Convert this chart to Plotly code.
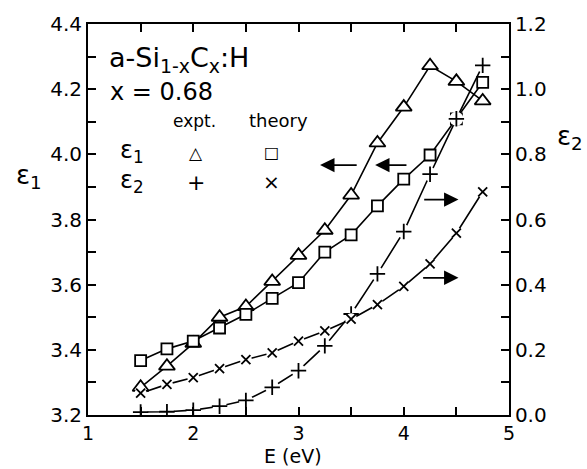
import plotly.graph_objects as go

E = [1.5, 1.75, 2.0, 2.25, 2.5, 2.75, 3.0, 3.25, 3.5, 3.75, 4.0, 4.25, 4.5, 4.75]
eps1_expt = [3.285, 3.35, 3.42, 3.50, 3.533, 3.61, 3.69, 3.767, 3.875, 4.035, 4.145, 4.272, 4.224, 4.164]
eps1_theory = [3.367, 3.403, 3.427, 3.467, 3.509, 3.558, 3.606, 3.70, 3.753, 3.842, 3.924, 3.998, 4.109, 4.221]
eps2_expt = [0.009, 0.01, 0.015, 0.027, 0.045, 0.085, 0.136, 0.212, 0.31, 0.433, 0.563, 0.739, 0.909, 1.073]
eps2_theory = [0.067, 0.094, 0.115, 0.142, 0.17, 0.191, 0.227, 0.258, 0.294, 0.339, 0.395, 0.464, 0.558, 0.685]

x_ticks = [1, 2, 3, 4, 5]
y1_ticks = [3.2, 3.4, 3.6, 3.8, 4.0, 4.2, 4.4]
y2_ticks = [0.0, 0.2, 0.4, 0.6, 0.8, 1.0, 1.2]

FONT = "DejaVu Sans"
BLK = "black"
LW = 1.6

fig = go.Figure()

# epsilon2 series (right axis) with gaps around markers
for ys, sym, sz in [(eps2_expt, "cross-thin", 11), (eps2_theory, "x-thin", 9)]:
    fig.add_trace(go.Scatter(x=E, y=ys, yaxis="y2", mode="lines",
                             line=dict(color=BLK, width=LW), hoverinfo="skip"))
    fig.add_trace(go.Scatter(x=E, y=ys, yaxis="y2", mode="markers",
                             marker=dict(symbol="circle", size=sz + 3, color="white",
                                         line=dict(width=0)), hoverinfo="skip"))
    fig.add_trace(go.Scatter(x=E, y=ys, yaxis="y2", mode="markers",
                             marker=dict(symbol=sym, size=sz, color=BLK,
                                         line=dict(color=BLK, width=1.8))))

# epsilon1 series (left axis)
fig.add_trace(go.Scatter(x=E, y=eps1_expt, mode="lines+markers",
                         line=dict(color=BLK, width=LW),
                         marker=dict(symbol="triangle-up", size=14, color="white",
                                     line=dict(color=BLK, width=1.8))))
fig.add_trace(go.Scatter(x=E, y=eps1_theory, mode="lines+markers",
                         line=dict(color=BLK, width=LW),
                         marker=dict(symbol="square", size=11, color="white",
                                     line=dict(color=BLK, width=1.8))))

tickfont = dict(family=FONT, size=20, color=BLK)
xtickfont = dict(family=FONT, size=19, color=BLK)

fig.update_layout(
    width=587, height=469,
    margin=dict(l=88, r=78, t=19, b=54),
    paper_bgcolor="white", plot_bgcolor="white",
    showlegend=False,
    xaxis=dict(range=[1, 5], tickvals=x_ticks, ticktext=[str(v) for v in x_ticks],
               ticks="inside", ticklen=8, tickwidth=1.5, tickcolor=BLK,
               minor=dict(ticks="inside", dtick=0.5, ticklen=8, tickwidth=1.5, tickcolor=BLK),
               showline=True, linecolor=BLK, linewidth=1.8, mirror="ticks",
               showgrid=False, zeroline=False, tickfont=xtickfont),
    yaxis=dict(range=[3.2, 4.4], tickvals=y1_ticks, ticktext=[f"{v:.1f}" for v in y1_ticks],
               ticks="inside", ticklen=8, tickwidth=1.5, tickcolor=BLK,
               minor=dict(ticks="inside", dtick=0.1, ticklen=8, tickwidth=1.5, tickcolor=BLK),
               showline=True, linecolor=BLK, linewidth=1.8,
               showgrid=False, zeroline=False, tickfont=tickfont),
    yaxis2=dict(range=[0, 1.2], overlaying="y", side="right",
                tickvals=y2_ticks, ticktext=[f"{v:.1f}" for v in y2_ticks],
                ticks="inside", ticklen=8, tickwidth=1.5, tickcolor=BLK,
                minor=dict(ticks="inside", dtick=0.1, ticklen=8, tickwidth=1.5, tickcolor=BLK),
                showline=True, linecolor=BLK, linewidth=1.8,
                showgrid=False, zeroline=False, tickfont=tickfont),
)

def txt(x, y, s, size, xanchor="left", yanchor="middle"):
    fig.add_annotation(x=x, y=y, xref="paper", yref="paper", text=s, showarrow=False,
                       xanchor=xanchor, yanchor=yanchor,
                       font=dict(family=FONT, size=size, color=BLK))

txt(0.045, 0.91, "a-Si<sub>1-x</sub>C<sub>x</sub>:H", 27)
txt(0.048, 0.826, "x = 0.68", 24)
txt(0.254, 0.752, "expt.", 17, xanchor="center")
txt(0.452, 0.752, "theory", 18, xanchor="center")
txt(0.072, 0.675, "ε<sub>1</sub>", 24)
txt(0.072, 0.597, "ε<sub>2</sub>", 24)
txt(0.257, 0.671, "△", 17, xanchor="center")
txt(0.437, 0.671, "□", 16, xanchor="center")
txt(0.257, 0.595, "+", 22, xanchor="center")
txt(0.437, 0.595, "×", 20, xanchor="center")
txt(-0.175, 0.61, "ε<sub>1</sub>", 26)
txt(1.11, 0.71, "ε<sub>2</sub>", 26)
txt(0.487, -0.106, "E (eV)", 19, xanchor="center", yanchor="middle")

# arrows pointing to the relevant axis
arrows = [
    (3.205, 3.967, 3.567, 3.967, "y"),
    (3.728, 3.967, 4.04, 3.967, "y"),
    (4.52, 0.661, 4.18, 0.661, "y2"),
    (4.52, 0.421, 4.17, 0.421, "y2"),
]
for hx, hy, tx, ty, yr in arrows:
    fig.add_annotation(x=hx, y=hy, ax=tx, ay=ty, xref="x", yref=yr, axref="x", ayref=yr,
                       text="", showarrow=True, arrowhead=2, arrowsize=1.6,
                       arrowwidth=1.8, arrowcolor=BLK)

fig.write_html("out.html")
